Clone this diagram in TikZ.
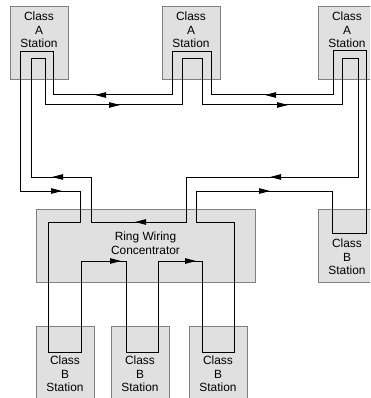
\documentclass[tikz,border=0pt]{standalone}
\usepackage{fontspec}
\setmainfont{Liberation Sans}
\usetikzlibrary{arrows.meta}

\begin{document}
\begin{tikzpicture}[
    x=1pt, y=-1pt,
    station/.style={draw=black!50,fill=black!12,minimum width=58pt,minimum height=73pt,inner sep=0pt},
    lbl/.style={align=center,font=\fontsize{11.9}{13.5}\selectfont,inner sep=0pt,anchor=north},
    ring/.style={line width=1pt},
    tip/.style={-{Triangle[length=11pt,width=5.5pt]},line width=1pt}
  ]
    \path[use as bounding box,clip] (0,0) rectangle (370,398);
    % class A stations along the top
    \node[station,label={[lbl,yshift=-6pt]north:Class\\A\\Station}] (clsA1) at (39,42.5) {};
    \node[station,label={[lbl,yshift=-6pt]north:Class\\A\\Station}] (clsA2) at (191,42.5) {};
    \node[station,label={[lbl,yshift=-6pt]north:Class\\A\\Station}] (clsA3) at (347,42.5) {};
    % concentrator and class B stations
    \node[station,minimum width=219pt,label={[lbl,yshift=-23pt]north:Ring Wiring\\Concentrator}] (rwc) at (145.5,245.5) {};
    \node[station,label={[lbl,yshift=-30pt]north:Class\\B\\Station}] (clsB4) at (347,245.5) {};
    \node[station,label={[lbl,yshift=-30pt]north:Class\\B\\Station}] (clsB1) at (65,362.5) {};
    \node[station,label={[lbl,yshift=-30pt]north:Class\\B\\Station}] (clsB2) at (140,362.5) {};
    \node[station,label={[lbl,yshift=-30pt]north:Class\\B\\Station}] (clsB3) at (218,362.5) {};
    % primary ring
    \draw[ring] (53,95) -- (53,52) -- (20,52) -- (20,191) -- (80,191) -- (80,222) -- (48,222)
      -- (48,352) -- (81,352) -- (81,261) -- (126,261) -- (126,352) -- (158,352) -- (158,261)
      -- (202,261) -- (202,352) -- (234,352) -- (234,222) -- (196,222) -- (196,191) -- (332,191)
      -- (332,233) -- (366,233) -- (366,51) -- (333,51) -- (333,95) -- (211,95) -- (211,52)
      -- (172,52) -- (172,95) -- cycle;
    % secondary ring
    \draw[ring] (45,105) -- (45,59) -- (31,59) -- (31,177) -- (91,177) -- (91,222) -- (186,222)
      -- (186,177) -- (358,177) -- (358,59) -- (342,59) -- (342,105) -- (202,105) -- (202,59)
      -- (182,59) -- (182,105) -- cycle;
    % direction marks
    \draw[tip] (107,95) -- (95,95);
    \draw[tip] (277,95) -- (265,95);
    \draw[tip] (108,105) -- (120,105);
    \draw[tip] (276,105) -- (288,105);
    \draw[tip] (65,177) -- (52,177);
    \draw[tip] (282,177) -- (270,177);
    \draw[tip] (50,191) -- (62,191);
    \draw[tip] (258,191) -- (270,191);
    \draw[tip] (147,222) -- (135,222);
    \draw[tip] (108,261) -- (121,261);
    \draw[tip] (184,261) -- (196,261);
\end{tikzpicture}
\end{document}
